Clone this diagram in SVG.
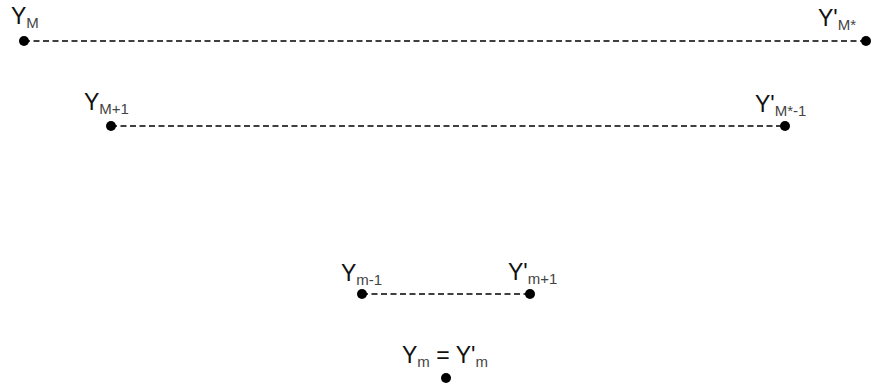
<svg xmlns="http://www.w3.org/2000/svg" width="887" height="387" viewBox="0 0 887 387">
<style>
.l{stroke:#000;stroke-width:1.6;stroke-dasharray:6 3.5;fill:none}
.d{fill:#000}
text{font-family:"Liberation Sans",Arial,sans-serif;fill:#111}
.b{font-size:23px}
.s{font-size:15px;fill:#444}
</style>
<rect width="887" height="387" fill="#fff"/>
<g id="connectors">
<line class="l" x1="24" y1="41" x2="866" y2="41"/>
<line class="l" x1="111" y1="126" x2="785" y2="126"/>
<line class="l" x1="362" y1="294" x2="530" y2="294"/>
</g>
<g id="yM"><circle class="d" cx="24" cy="41" r="5"/><text class="b" x="11" y="24">Y<tspan class="s" dy="4">M</tspan></text></g>
<g id="ypMs"><circle class="d" cx="866" cy="41" r="5"/><text class="b" x="818" y="26">Y'<tspan class="s" dy="4">M*</tspan></text></g>
<g id="yM1"><circle class="d" cx="111" cy="126" r="5"/><text class="b" x="84" y="110">Y<tspan class="s" dy="4">M+1</tspan></text></g>
<g id="ypMs1"><circle class="d" cx="785" cy="126" r="5"/><text class="b" x="755" y="112">Y'<tspan class="s" dy="4">M*-1</tspan></text></g>
<g id="ym1"><circle class="d" cx="362" cy="294" r="5"/><text class="b" x="341" y="281">Y<tspan class="s" dy="4">m-1</tspan></text></g>
<g id="ypm1"><circle class="d" cx="530" cy="294" r="5"/><text class="b" x="508" y="280">Y'<tspan class="s" dy="4">m+1</tspan></text></g>
<g id="ym"><circle class="d" cx="446" cy="378" r="5"/><text class="b" x="402" y="363">Y<tspan class="s" dy="4" fill="#111">m</tspan><tspan dy="-4"> = Y'</tspan><tspan class="s" dy="4" fill="#111">m</tspan></text></g>
</svg>
